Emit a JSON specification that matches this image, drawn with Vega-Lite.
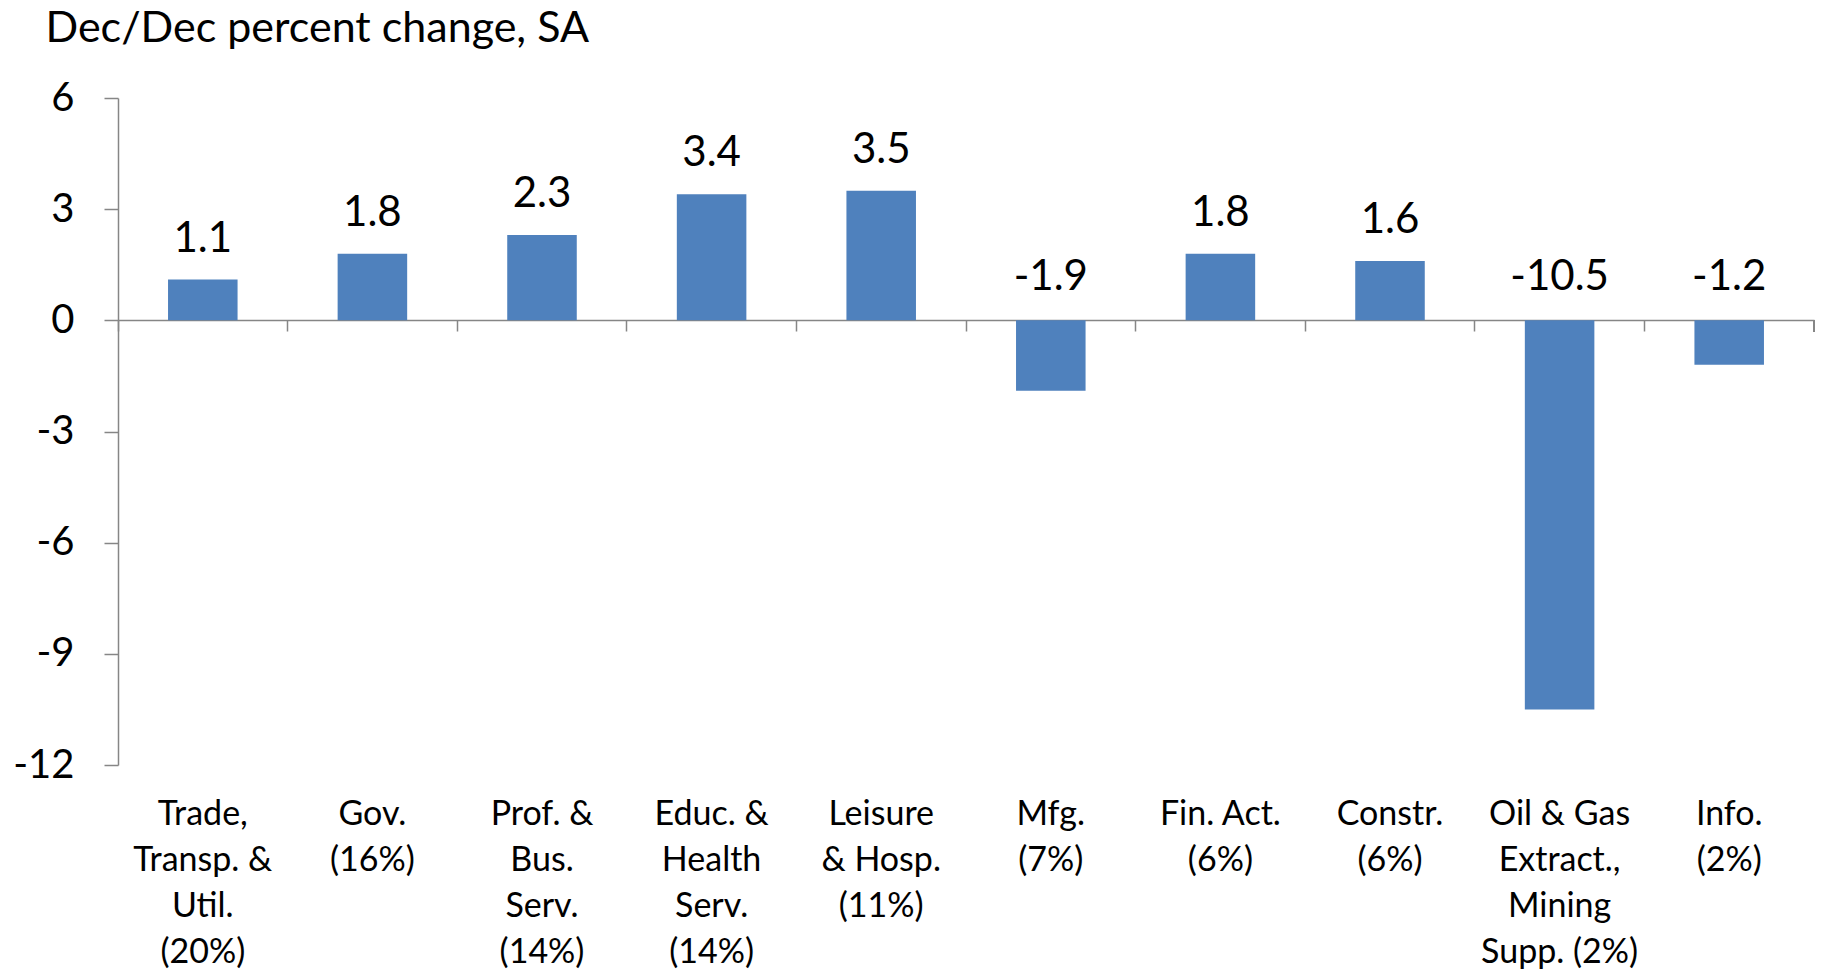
{
  "$schema": "https://vega.github.io/schema/vega-lite/v6.json",
  "width": 1696,
  "height": 667,
  "autosize": "none",
  "padding": {"left": 118, "top": 98, "right": 8, "bottom": 205},
  "background": "white",
  "config": {
    "view": {"stroke": null},
    "font": "Lato",
    "axis": {"grid": false}
  },
  "data": {
    "values": [
      {"sector": "Trade,|Transp. &|Util.|(20%)", "value": 1.1},
      {"sector": "Gov.|(16%)", "value": 1.8},
      {"sector": "Prof. &|Bus.|Serv.|(14%)", "value": 2.3},
      {"sector": "Educ. &|Health|Serv.|(14%)", "value": 3.4},
      {"sector": "Leisure|& Hosp.|(11%)", "value": 3.5},
      {"sector": "Mfg.|(7%)", "value": -1.9},
      {"sector": "Fin. Act.|(6%)", "value": 1.8},
      {"sector": "Constr.|(6%)", "value": 1.6},
      {"sector": "Oil & Gas|Extract.,|Mining|Supp. (2%)", "value": -10.5},
      {"sector": "Info.|(2%)", "value": -1.2}
    ]
  },
  "resolve": {"axis": {"x": "independent"}},
  "layer": [
    {
      "mark": {"type": "bar", "color": "#4F81BD", "width": {"band": 0.41}},
      "encoding": {
        "x": {
          "field": "sector", "type": "nominal", "sort": null,
          "scale": {"paddingInner": 0, "paddingOuter": 0},
          "axis": {
            "orient": "bottom",
            "title": null, "labels": false, "offset": -445,
            "domainColor": "#868686", "domainWidth": 1.5,
            "ticks": true, "tickColor": "#868686", "tickWidth": 1.5, "tickSize": 11, "bandPosition": 0
          }
        },
        "y": {
          "field": "value", "type": "quantitative",
          "scale": {"domain": [-12, 6], "nice": false, "zero": false},
          "axis": {
            "values": [-12, -9, -6, -3, 0, 3, 6],
            "labelExpr": "replace(datum.label, '\u2212', '-')",
            "title": "Dec/Dec percent change, SA",
            "titleAngle": 0, "titleX": -73, "titleY": -57, "titleAlign": "left", "titleBaseline": "alphabetic",
            "titleFont": "Lato", "titleFontSize": 43, "titleFontWeight": "normal", "titleColor": "black",
            "labelFont": "Lato", "labelFontSize": 40, "labelColor": "black", "labelPadding": 30,
            "domainColor": "#868686", "domainWidth": 1.5,
            "tickColor": "#868686", "tickWidth": 1.5, "tickSize": 14
          }
        }
      }
    },
    {
      "transform": [{"filter": "datum.value >= 0"}],
      "mark": {"type": "text", "font": "Lato", "fontSize": 42, "color": "black", "baseline": "bottom", "dy": -19},
      "encoding": {
        "x": {
          "field": "sector", "type": "nominal", "sort": null,
          "axis": {
            "orient": "bottom",
            "title": null, "domain": false, "ticks": false,
            "labelExpr": "split(datum.value, '|')",
            "labelFont": "Lato", "labelFontSize": 34, "labelColor": "black",
            "labelAngle": 0, "labelBaseline": "top", "labelPadding": 32, "labelLineHeight": 46,
            "labelLimit": 0
          }
        },
        "y": {"field": "value", "type": "quantitative"},
        "text": {"field": "value", "type": "nominal"}
      }
    },
    {
      "transform": [{"filter": "datum.value < 0"}],
      "mark": {"type": "text", "font": "Lato", "fontSize": 42, "color": "black", "baseline": "bottom", "dy": -21},
      "encoding": {
        "x": {"field": "sector", "type": "nominal", "sort": null, "axis": null},
        "y": {"datum": 0},
        "text": {"field": "value", "type": "nominal"}
      }
    },
    {
      "mark": {"type": "rule", "color": "#868686", "strokeWidth": 1.5},
      "encoding": {
        "x": {"datum": "Info.|(2%)", "bandPosition": 1, "axis": null},
        "y": {"datum": 0},
        "y2": {"datum": -0.3}
      }
    }
  ]
}
